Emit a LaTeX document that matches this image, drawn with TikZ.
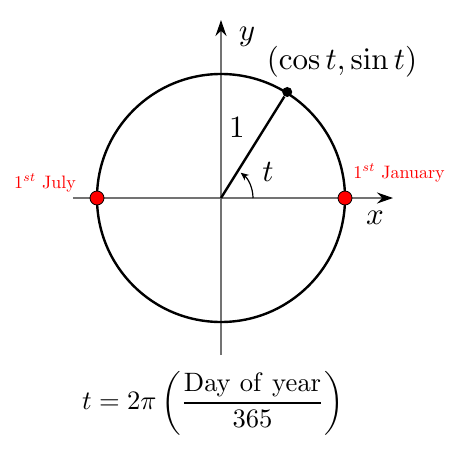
\documentclass[tikz,border=0pt]{standalone}
\usetikzlibrary{arrows.meta}
\definecolor{axisgray}{gray}{0.45}
\begin{document}
\begin{tikzpicture}[x=0.5pt,y=0.5pt,
  axis/.style={draw=axisgray,line width=1pt,-{Stealth[length=8pt,width=5.5pt,black]}},
  circ/.style={draw=black,line width=1.2pt},
  reddot/.style={circle,fill=red,draw=black,line width=0.4pt,inner sep=0pt,minimum size=7pt},
  blackdot/.style={circle,fill=black,inner sep=0pt,minimum size=5pt},
  mathlbl/.style={scale=1.55,inner sep=0pt},
  redlbl/.style={text=red,scale=0.9,inner sep=0pt,anchor=base}]
\useasboundingbox (-221,-258) rectangle (231,198);
\coordinate (O) at (0,0);
\coordinate (xs) at (-148,0);
\coordinate (xe) at (172,0);
\coordinate (ys) at (0,-157);
\coordinate (ye) at (0,178);
\draw[axis] (xs) -- (xe);
\draw[axis] (ys) -- (ye);
\draw[circ] (O) circle[radius=124];
\node[blackdot] (P) at (58:125) {};
\draw[circ] (O) -- (P);
\draw[line width=0.6pt,-{Stealth[length=4pt,width=3.5pt]}] (32,0) arc[start angle=0,end angle=52,radius=32];
\node[reddot] (jan) at (124,0) {};
\node[reddot] (jul) at (-124,0) {};
\node[mathlbl] (lx) at (154,-20) {$x$};
\node[mathlbl] (ly) at (26,161) {$y$};
\node[mathlbl] (lone) at (16,70) {$1$};
\node[mathlbl] (lt) at (47,26) {$t$};
\node[mathlbl] (lp) at (121,136) {$(\cos t,\sin t)$};
\node[redlbl] (ljul) at (-176,10) {$1^{st}$ July};
\node[redlbl] (ljan) at (178,20) {$1^{st}$ January};
\node[scale=1.33,inner sep=0pt] (f) at (-8,-205) {$\displaystyle t=2\pi\left(\frac{\mathrm{Day\ of\ year}}{365}\right)$};
\end{tikzpicture}
\end{document}
